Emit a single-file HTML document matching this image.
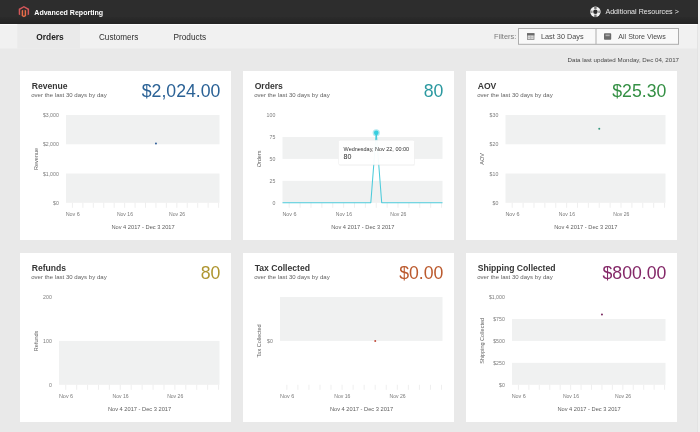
<!DOCTYPE html>
<html><head><meta charset="utf-8">
<style>
html,body{margin:0;padding:0;}
body{width:700px;height:432px;overflow:hidden;background:#e9e9e9;position:relative;font-family:"Liberation Sans", sans-serif;}
.abs{position:absolute;}
svg{display:block;will-change:transform;font-family:"Liberation Sans", sans-serif;}
.header{position:absolute;left:0;top:0;width:700px;height:24px;background:#2d2d2d;}
.tabs{position:absolute;left:0;top:24px;width:700px;height:24px;background:#f4f4f4;}
.tab-active{position:absolute;left:17px;top:24px;width:63px;height:24px;background:#e9e9e9;}
.card{position:absolute;width:211px;background:#fff;}
</style></head><body>
<div class="header"></div><div class="abs" style="left:0;top:17px;width:700px;height:7px;background:linear-gradient(#2b2b2b,#232323)"></div>
<svg class="abs" style="left:0;top:24px" width="700" height="26" viewBox="0 24 700 26"><rect x="0" y="24" width="700" height="24.5" fill="#f1f1f1"/><rect x="0" y="24" width="700" height="1.2" fill="#fbfbfb"/><rect x="17.3" y="24" width="62.7" height="24.5" fill="#eaeaea"/></svg>

<svg class="abs" style="left:0;top:0" width="700" height="48" viewBox="0 0 700 48">
<g transform="translate(17.9 6.0) scale(0.5 0.47)"><path fill="#e86e48" d="M12 24l-4.455-2.572v-12l2.97-1.715v12.001L12 20.578l1.485-.863V7.713l2.97 1.715v12L12 24z"/><path fill="#d4575a" d="M22.391 6v12l-2.969 1.714V7.713L12 3.43 4.574 7.713v12.001L1.609 18V6L12 0l10.391 6z"/></g>
<text x="34.30" y="14.90" font-size="7.6" fill="#fff" font-weight="bold" text-anchor="start" textLength="68.8" lengthAdjust="spacingAndGlyphs">Advanced Reporting</text>
<g transform="translate(595.4 11.8)">
 <circle r="5.2" fill="#f2f2f2"/>
 <circle r="2.2" fill="#2d2d2d"/>
 <rect x="-1.2" y="-5.4" width="2.4" height="2.6" fill="#777"/>
 <rect x="-1.2" y="2.8" width="2.4" height="2.6" fill="#777"/>
 <rect x="-5.4" y="-1.2" width="2.6" height="2.4" fill="#9a9a9a"/>
 <rect x="2.8" y="-1.2" width="2.6" height="2.4" fill="#9a9a9a"/>
</g>
<text x="605.40" y="14.10" font-size="7.3" fill="#e6e6e6" font-weight="normal" text-anchor="start" textLength="73.4" lengthAdjust="spacingAndGlyphs">Additional Resources &gt;</text>
<text x="36.30" y="39.70" font-size="8.38" fill="#222" font-weight="bold" text-anchor="start" >Orders</text>
<text x="99.00" y="39.70" font-size="8.13" fill="#2e2e2e" font-weight="normal" text-anchor="start" >Customers</text>
<text x="173.50" y="39.70" font-size="8.25" fill="#2e2e2e" font-weight="normal" text-anchor="start" >Products</text>
<text x="494.00" y="39.00" font-size="7.45" fill="#7a7a7a" font-weight="normal" text-anchor="start" >Filters:</text>
<rect x="518.5" y="28.5" width="160" height="15.8" fill="#f9f9f9" stroke="#adadad" stroke-width="1"/>
<line x1="596" y1="28.5" x2="596" y2="44.3" stroke="#adadad" stroke-width="1"/>
<g>
 <rect x="527.4" y="33.6" width="6.6" height="5.8" fill="#d8d8d8" stroke="#8a8a8a" stroke-width="0.8"/>
 <rect x="527" y="33.2" width="7.4" height="2.2" fill="#6a6a6a"/>
 <line x1="530.7" y1="35.4" x2="530.7" y2="39.6" stroke="#a0a0a0" stroke-width="0.6"/>
 <line x1="527.4" y1="37.5" x2="534" y2="37.5" stroke="#b0b0b0" stroke-width="0.5"/>
</g>
<text x="541.00" y="39.00" font-size="7.31" fill="#4a4a4a" font-weight="normal" text-anchor="start" >Last 30 Days</text>
<g>
 <rect x="604" y="33.2" width="7.2" height="6.6" rx="0.8" fill="#6a6a6a"/>
 <rect x="605.5" y="34.6" width="4.2" height="1.6" fill="#aaa"/>
</g>
<text x="618.30" y="39.00" font-size="7.09" fill="#4a4a4a" font-weight="normal" text-anchor="start" >All Store Views</text>
</svg>
<svg class="abs" style="left:0;top:48px" width="700" height="20" viewBox="0 48 700 20">
<text x="679.00" y="61.60" font-size="6.17" fill="#484848" font-weight="normal" text-anchor="end" >Data last updated Monday, Dec 04, 2017</text>
</svg>
<div class="card" style="left:20px;top:71px;height:169px">
<svg width="211" height="169" viewBox="0 0 211 169">
<text x="11.70" y="17.50" font-size="8.6" fill="#363636" font-weight="bold" text-anchor="start" >Revenue</text>
<text x="11.20" y="26.00" font-size="6.25" fill="#5f5f5f" font-weight="normal" text-anchor="start" textLength="75.5" lengthAdjust="spacingAndGlyphs">over the last 30 days by day</text>
<text x="200.40" y="25.60" font-size="17.7" fill="#2b6296" font-weight="normal" text-anchor="end" >$2,024.00</text>
<rect x="46" y="44.00" width="153.50" height="29.27" fill="#f0f1f1"/>
<rect x="46" y="102.53" width="153.50" height="29.27" fill="#f0f1f1"/>
<text x="0.00" y="0.00" font-size="5.8" fill="#7c7c7c" font-weight="normal" text-anchor="end" transform="translate(38.80 46.10) scale(0.9 1)">$3,000</text>
<text x="0.00" y="0.00" font-size="5.8" fill="#7c7c7c" font-weight="normal" text-anchor="end" transform="translate(38.80 75.37) scale(0.9 1)">$2,000</text>
<text x="0.00" y="0.00" font-size="5.8" fill="#7c7c7c" font-weight="normal" text-anchor="end" transform="translate(38.80 104.63) scale(0.9 1)">$1,000</text>
<text x="0.00" y="0.00" font-size="5.8" fill="#7c7c7c" font-weight="normal" text-anchor="end" transform="translate(38.80 133.90) scale(0.9 1)">$0</text>
<line x1="52.45" y1="131.8" x2="52.45" y2="136.8" stroke="#e8e8e8" stroke-width="0.7"/>
<line x1="62.89" y1="131.8" x2="62.89" y2="136.8" stroke="#e8e8e8" stroke-width="0.7"/>
<line x1="73.32" y1="131.8" x2="73.32" y2="136.8" stroke="#e8e8e8" stroke-width="0.7"/>
<line x1="83.76" y1="131.8" x2="83.76" y2="136.8" stroke="#e8e8e8" stroke-width="0.7"/>
<line x1="94.20" y1="131.8" x2="94.20" y2="136.8" stroke="#e8e8e8" stroke-width="0.7"/>
<line x1="104.64" y1="131.8" x2="104.64" y2="136.8" stroke="#e8e8e8" stroke-width="0.7"/>
<line x1="115.08" y1="131.8" x2="115.08" y2="136.8" stroke="#e8e8e8" stroke-width="0.7"/>
<line x1="125.51" y1="131.8" x2="125.51" y2="136.8" stroke="#e8e8e8" stroke-width="0.7"/>
<line x1="135.95" y1="131.8" x2="135.95" y2="136.8" stroke="#e8e8e8" stroke-width="0.7"/>
<line x1="146.39" y1="131.8" x2="146.39" y2="136.8" stroke="#e8e8e8" stroke-width="0.7"/>
<line x1="156.83" y1="131.8" x2="156.83" y2="136.8" stroke="#e8e8e8" stroke-width="0.7"/>
<line x1="167.26" y1="131.8" x2="167.26" y2="136.8" stroke="#e8e8e8" stroke-width="0.7"/>
<line x1="177.70" y1="131.8" x2="177.70" y2="136.8" stroke="#e8e8e8" stroke-width="0.7"/>
<line x1="188.14" y1="131.8" x2="188.14" y2="136.8" stroke="#e8e8e8" stroke-width="0.7"/>
<line x1="198.58" y1="131.8" x2="198.58" y2="136.8" stroke="#e8e8e8" stroke-width="0.7"/>
<text x="52.75" y="144.90" font-size="5.9" fill="#7a7a7a" font-weight="normal" text-anchor="middle" textLength="14.2" lengthAdjust="spacingAndGlyphs">Nov 6</text>
<text x="104.94" y="144.90" font-size="5.9" fill="#7a7a7a" font-weight="normal" text-anchor="middle" textLength="16.1" lengthAdjust="spacingAndGlyphs">Nov 16</text>
<text x="157.13" y="144.90" font-size="5.9" fill="#7a7a7a" font-weight="normal" text-anchor="middle" textLength="16.1" lengthAdjust="spacingAndGlyphs">Nov 26</text>
<text x="123.05" y="157.60" font-size="6.0" fill="#606060" font-weight="normal" text-anchor="middle" textLength="63.3" lengthAdjust="spacingAndGlyphs">Nov 4 2017 - Dec 3 2017</text>
<text x="0.00" y="0.00" font-size="5.5" fill="#666" font-weight="normal" text-anchor="middle" transform="translate(17.6 87.90) rotate(-90)">Revenue</text>
<circle cx="135.95" cy="72.56" r="1.0" fill="#2f5f9a"/>
</svg></div>
<div class="card" style="left:243px;top:71px;height:169px">
<svg width="211" height="169" viewBox="0 0 211 169">
<text x="11.70" y="17.50" font-size="8.6" fill="#363636" font-weight="bold" text-anchor="start" >Orders</text>
<text x="11.20" y="26.00" font-size="6.25" fill="#5f5f5f" font-weight="normal" text-anchor="start" textLength="75.5" lengthAdjust="spacingAndGlyphs">over the last 30 days by day</text>
<text x="200.40" y="25.60" font-size="17.7" fill="#2b99a0" font-weight="normal" text-anchor="end" >80</text>
<rect x="39.5" y="65.95" width="160.00" height="21.95" fill="#f0f1f1"/>
<rect x="39.5" y="109.85" width="160.00" height="21.95" fill="#f0f1f1"/>
<text x="0.00" y="0.00" font-size="5.8" fill="#7c7c7c" font-weight="normal" text-anchor="end" transform="translate(32.30 46.10) scale(0.9 1)">100</text>
<text x="0.00" y="0.00" font-size="5.8" fill="#7c7c7c" font-weight="normal" text-anchor="end" transform="translate(32.30 68.05) scale(0.9 1)">75</text>
<text x="0.00" y="0.00" font-size="5.8" fill="#7c7c7c" font-weight="normal" text-anchor="end" transform="translate(32.30 90.00) scale(0.9 1)">50</text>
<text x="0.00" y="0.00" font-size="5.8" fill="#7c7c7c" font-weight="normal" text-anchor="end" transform="translate(32.30 111.95) scale(0.9 1)">25</text>
<text x="0.00" y="0.00" font-size="5.8" fill="#7c7c7c" font-weight="normal" text-anchor="end" transform="translate(32.30 133.90) scale(0.9 1)">0</text>
<line x1="46.22" y1="131.8" x2="46.22" y2="136.8" stroke="#e8e8e8" stroke-width="0.7"/>
<line x1="57.10" y1="131.8" x2="57.10" y2="136.8" stroke="#e8e8e8" stroke-width="0.7"/>
<line x1="67.98" y1="131.8" x2="67.98" y2="136.8" stroke="#e8e8e8" stroke-width="0.7"/>
<line x1="78.86" y1="131.8" x2="78.86" y2="136.8" stroke="#e8e8e8" stroke-width="0.7"/>
<line x1="89.74" y1="131.8" x2="89.74" y2="136.8" stroke="#e8e8e8" stroke-width="0.7"/>
<line x1="100.62" y1="131.8" x2="100.62" y2="136.8" stroke="#e8e8e8" stroke-width="0.7"/>
<line x1="111.50" y1="131.8" x2="111.50" y2="136.8" stroke="#e8e8e8" stroke-width="0.7"/>
<line x1="122.38" y1="131.8" x2="122.38" y2="136.8" stroke="#e8e8e8" stroke-width="0.7"/>
<line x1="133.26" y1="131.8" x2="133.26" y2="136.8" stroke="#e8e8e8" stroke-width="0.7"/>
<line x1="144.14" y1="131.8" x2="144.14" y2="136.8" stroke="#e8e8e8" stroke-width="0.7"/>
<line x1="155.02" y1="131.8" x2="155.02" y2="136.8" stroke="#e8e8e8" stroke-width="0.7"/>
<line x1="165.90" y1="131.8" x2="165.90" y2="136.8" stroke="#e8e8e8" stroke-width="0.7"/>
<line x1="176.78" y1="131.8" x2="176.78" y2="136.8" stroke="#e8e8e8" stroke-width="0.7"/>
<line x1="187.66" y1="131.8" x2="187.66" y2="136.8" stroke="#e8e8e8" stroke-width="0.7"/>
<line x1="198.54" y1="131.8" x2="198.54" y2="136.8" stroke="#e8e8e8" stroke-width="0.7"/>
<text x="46.52" y="144.90" font-size="5.9" fill="#7a7a7a" font-weight="normal" text-anchor="middle" textLength="14.2" lengthAdjust="spacingAndGlyphs">Nov 6</text>
<text x="100.92" y="144.90" font-size="5.9" fill="#7a7a7a" font-weight="normal" text-anchor="middle" textLength="16.1" lengthAdjust="spacingAndGlyphs">Nov 16</text>
<text x="155.32" y="144.90" font-size="5.9" fill="#7a7a7a" font-weight="normal" text-anchor="middle" textLength="16.1" lengthAdjust="spacingAndGlyphs">Nov 26</text>
<text x="119.80" y="157.60" font-size="6.0" fill="#606060" font-weight="normal" text-anchor="middle" textLength="63.3" lengthAdjust="spacingAndGlyphs">Nov 4 2017 - Dec 3 2017</text>
<text x="0.00" y="0.00" font-size="5.5" fill="#666" font-weight="normal" text-anchor="middle" transform="translate(17.6 87.90) rotate(-90)">Orders</text>
<polyline points="39.5,131.8 127.82,131.8 133.26,61.56 138.70,131.8 199.5,131.8" fill="none" stroke="#4ccbdb" stroke-width="1.05" stroke-linejoin="round"/>
<circle cx="133.26" cy="61.86" r="3.6" fill="#3cc6d6" opacity="0.4"/>
<circle cx="133.26" cy="61.86" r="2.3" fill="#36cfe0"/>
<rect x="96.0" y="70.50000000000001" width="76" height="24.5" rx="1.5" fill="rgba(0,0,0,0.03)"/>
<rect x="95.5" y="69.30000000000001" width="76" height="24.5" rx="1.5" fill="rgba(255,255,255,0.95)" stroke="#efefef" stroke-width="0.6"/>
<text x="100.60" y="79.60" font-size="6.0" fill="#333" font-weight="normal" text-anchor="start" textLength="65.5" lengthAdjust="spacingAndGlyphs">Wednesday, Nov 22, 00:00</text>
<text x="100.50" y="87.70" font-size="6.4" fill="#2a2a2a" font-weight="normal" text-anchor="start" textLength="7.9" lengthAdjust="spacingAndGlyphs">80</text>
</svg></div>
<div class="card" style="left:466px;top:71px;height:169px">
<svg width="211" height="169" viewBox="0 0 211 169">
<text x="11.70" y="17.50" font-size="8.6" fill="#363636" font-weight="bold" text-anchor="start" >AOV</text>
<text x="11.20" y="26.00" font-size="6.25" fill="#5f5f5f" font-weight="normal" text-anchor="start" textLength="75.5" lengthAdjust="spacingAndGlyphs">over the last 30 days by day</text>
<text x="200.40" y="25.60" font-size="17.7" fill="#359045" font-weight="normal" text-anchor="end" >$25.30</text>
<rect x="39.5" y="44.00" width="160.00" height="29.27" fill="#f0f1f1"/>
<rect x="39.5" y="102.53" width="160.00" height="29.27" fill="#f0f1f1"/>
<text x="0.00" y="0.00" font-size="5.8" fill="#7c7c7c" font-weight="normal" text-anchor="end" transform="translate(32.30 46.10) scale(0.9 1)">$30</text>
<text x="0.00" y="0.00" font-size="5.8" fill="#7c7c7c" font-weight="normal" text-anchor="end" transform="translate(32.30 75.37) scale(0.9 1)">$20</text>
<text x="0.00" y="0.00" font-size="5.8" fill="#7c7c7c" font-weight="normal" text-anchor="end" transform="translate(32.30 104.63) scale(0.9 1)">$10</text>
<text x="0.00" y="0.00" font-size="5.8" fill="#7c7c7c" font-weight="normal" text-anchor="end" transform="translate(32.30 133.90) scale(0.9 1)">$0</text>
<line x1="46.22" y1="131.8" x2="46.22" y2="136.8" stroke="#e8e8e8" stroke-width="0.7"/>
<line x1="57.10" y1="131.8" x2="57.10" y2="136.8" stroke="#e8e8e8" stroke-width="0.7"/>
<line x1="67.98" y1="131.8" x2="67.98" y2="136.8" stroke="#e8e8e8" stroke-width="0.7"/>
<line x1="78.86" y1="131.8" x2="78.86" y2="136.8" stroke="#e8e8e8" stroke-width="0.7"/>
<line x1="89.74" y1="131.8" x2="89.74" y2="136.8" stroke="#e8e8e8" stroke-width="0.7"/>
<line x1="100.62" y1="131.8" x2="100.62" y2="136.8" stroke="#e8e8e8" stroke-width="0.7"/>
<line x1="111.50" y1="131.8" x2="111.50" y2="136.8" stroke="#e8e8e8" stroke-width="0.7"/>
<line x1="122.38" y1="131.8" x2="122.38" y2="136.8" stroke="#e8e8e8" stroke-width="0.7"/>
<line x1="133.26" y1="131.8" x2="133.26" y2="136.8" stroke="#e8e8e8" stroke-width="0.7"/>
<line x1="144.14" y1="131.8" x2="144.14" y2="136.8" stroke="#e8e8e8" stroke-width="0.7"/>
<line x1="155.02" y1="131.8" x2="155.02" y2="136.8" stroke="#e8e8e8" stroke-width="0.7"/>
<line x1="165.90" y1="131.8" x2="165.90" y2="136.8" stroke="#e8e8e8" stroke-width="0.7"/>
<line x1="176.78" y1="131.8" x2="176.78" y2="136.8" stroke="#e8e8e8" stroke-width="0.7"/>
<line x1="187.66" y1="131.8" x2="187.66" y2="136.8" stroke="#e8e8e8" stroke-width="0.7"/>
<line x1="198.54" y1="131.8" x2="198.54" y2="136.8" stroke="#e8e8e8" stroke-width="0.7"/>
<text x="46.52" y="144.90" font-size="5.9" fill="#7a7a7a" font-weight="normal" text-anchor="middle" textLength="14.2" lengthAdjust="spacingAndGlyphs">Nov 6</text>
<text x="100.92" y="144.90" font-size="5.9" fill="#7a7a7a" font-weight="normal" text-anchor="middle" textLength="16.1" lengthAdjust="spacingAndGlyphs">Nov 16</text>
<text x="155.32" y="144.90" font-size="5.9" fill="#7a7a7a" font-weight="normal" text-anchor="middle" textLength="16.1" lengthAdjust="spacingAndGlyphs">Nov 26</text>
<text x="119.80" y="157.60" font-size="6.0" fill="#606060" font-weight="normal" text-anchor="middle" textLength="63.3" lengthAdjust="spacingAndGlyphs">Nov 4 2017 - Dec 3 2017</text>
<text x="0.00" y="0.00" font-size="5.5" fill="#666" font-weight="normal" text-anchor="middle" transform="translate(17.6 87.90) rotate(-90)">AOV</text>
<circle cx="133.26" cy="57.76" r="1.0" fill="#35987e"/>
</svg></div>
<div class="card" style="left:20px;top:253px;height:169px">
<svg width="211" height="169" viewBox="0 0 211 169">
<text x="11.70" y="17.50" font-size="8.6" fill="#363636" font-weight="bold" text-anchor="start" >Refunds</text>
<text x="11.20" y="26.00" font-size="6.25" fill="#5f5f5f" font-weight="normal" text-anchor="start" textLength="75.5" lengthAdjust="spacingAndGlyphs">over the last 30 days by day</text>
<text x="200.40" y="25.60" font-size="17.7" fill="#ae952f" font-weight="normal" text-anchor="end" >80</text>
<rect x="39" y="87.90" width="160.50" height="43.90" fill="#f0f1f1"/>
<text x="0.00" y="0.00" font-size="5.8" fill="#7c7c7c" font-weight="normal" text-anchor="end" transform="translate(31.80 46.10) scale(0.9 1)">200</text>
<text x="0.00" y="0.00" font-size="5.8" fill="#7c7c7c" font-weight="normal" text-anchor="end" transform="translate(31.80 90.00) scale(0.9 1)">100</text>
<text x="0.00" y="0.00" font-size="5.8" fill="#7c7c7c" font-weight="normal" text-anchor="end" transform="translate(31.80 133.90) scale(0.9 1)">0</text>
<line x1="45.74" y1="131.8" x2="45.74" y2="136.8" stroke="#e8e8e8" stroke-width="0.7"/>
<line x1="56.66" y1="131.8" x2="56.66" y2="136.8" stroke="#e8e8e8" stroke-width="0.7"/>
<line x1="67.57" y1="131.8" x2="67.57" y2="136.8" stroke="#e8e8e8" stroke-width="0.7"/>
<line x1="78.48" y1="131.8" x2="78.48" y2="136.8" stroke="#e8e8e8" stroke-width="0.7"/>
<line x1="89.40" y1="131.8" x2="89.40" y2="136.8" stroke="#e8e8e8" stroke-width="0.7"/>
<line x1="100.31" y1="131.8" x2="100.31" y2="136.8" stroke="#e8e8e8" stroke-width="0.7"/>
<line x1="111.23" y1="131.8" x2="111.23" y2="136.8" stroke="#e8e8e8" stroke-width="0.7"/>
<line x1="122.14" y1="131.8" x2="122.14" y2="136.8" stroke="#e8e8e8" stroke-width="0.7"/>
<line x1="133.05" y1="131.8" x2="133.05" y2="136.8" stroke="#e8e8e8" stroke-width="0.7"/>
<line x1="143.97" y1="131.8" x2="143.97" y2="136.8" stroke="#e8e8e8" stroke-width="0.7"/>
<line x1="154.88" y1="131.8" x2="154.88" y2="136.8" stroke="#e8e8e8" stroke-width="0.7"/>
<line x1="165.80" y1="131.8" x2="165.80" y2="136.8" stroke="#e8e8e8" stroke-width="0.7"/>
<line x1="176.71" y1="131.8" x2="176.71" y2="136.8" stroke="#e8e8e8" stroke-width="0.7"/>
<line x1="187.62" y1="131.8" x2="187.62" y2="136.8" stroke="#e8e8e8" stroke-width="0.7"/>
<line x1="198.54" y1="131.8" x2="198.54" y2="136.8" stroke="#e8e8e8" stroke-width="0.7"/>
<text x="46.04" y="144.90" font-size="5.9" fill="#7a7a7a" font-weight="normal" text-anchor="middle" textLength="14.2" lengthAdjust="spacingAndGlyphs">Nov 6</text>
<text x="100.61" y="144.90" font-size="5.9" fill="#7a7a7a" font-weight="normal" text-anchor="middle" textLength="16.1" lengthAdjust="spacingAndGlyphs">Nov 16</text>
<text x="155.18" y="144.90" font-size="5.9" fill="#7a7a7a" font-weight="normal" text-anchor="middle" textLength="16.1" lengthAdjust="spacingAndGlyphs">Nov 26</text>
<text x="119.55" y="157.60" font-size="6.0" fill="#606060" font-weight="normal" text-anchor="middle" textLength="63.3" lengthAdjust="spacingAndGlyphs">Nov 4 2017 - Dec 3 2017</text>
<text x="0.00" y="0.00" font-size="5.5" fill="#666" font-weight="normal" text-anchor="middle" transform="translate(17.6 87.90) rotate(-90)">Refunds</text>
</svg></div>
<div class="card" style="left:243px;top:253px;height:169px">
<svg width="211" height="169" viewBox="0 0 211 169">
<text x="11.70" y="17.50" font-size="8.6" fill="#363636" font-weight="bold" text-anchor="start" >Tax Collected</text>
<text x="11.20" y="26.00" font-size="6.25" fill="#5f5f5f" font-weight="normal" text-anchor="start" textLength="75.5" lengthAdjust="spacingAndGlyphs">over the last 30 days by day</text>
<text x="200.40" y="25.60" font-size="17.7" fill="#bb5a2e" font-weight="normal" text-anchor="end" >$0.00</text>
<rect x="37" y="44.00" width="162.50" height="43.90" fill="#f0f1f1"/>
<text x="0.00" y="0.00" font-size="5.8" fill="#7c7c7c" font-weight="normal" text-anchor="end" transform="translate(29.80 90.00) scale(0.9 1)">$0</text>
<line x1="43.83" y1="131.8" x2="43.83" y2="136.8" stroke="#e8e8e8" stroke-width="0.7"/>
<line x1="54.88" y1="131.8" x2="54.88" y2="136.8" stroke="#e8e8e8" stroke-width="0.7"/>
<line x1="65.93" y1="131.8" x2="65.93" y2="136.8" stroke="#e8e8e8" stroke-width="0.7"/>
<line x1="76.97" y1="131.8" x2="76.97" y2="136.8" stroke="#e8e8e8" stroke-width="0.7"/>
<line x1="88.03" y1="131.8" x2="88.03" y2="136.8" stroke="#e8e8e8" stroke-width="0.7"/>
<line x1="99.08" y1="131.8" x2="99.08" y2="136.8" stroke="#e8e8e8" stroke-width="0.7"/>
<line x1="110.12" y1="131.8" x2="110.12" y2="136.8" stroke="#e8e8e8" stroke-width="0.7"/>
<line x1="121.17" y1="131.8" x2="121.17" y2="136.8" stroke="#e8e8e8" stroke-width="0.7"/>
<line x1="132.23" y1="131.8" x2="132.23" y2="136.8" stroke="#e8e8e8" stroke-width="0.7"/>
<line x1="143.28" y1="131.8" x2="143.28" y2="136.8" stroke="#e8e8e8" stroke-width="0.7"/>
<line x1="154.33" y1="131.8" x2="154.33" y2="136.8" stroke="#e8e8e8" stroke-width="0.7"/>
<line x1="165.38" y1="131.8" x2="165.38" y2="136.8" stroke="#e8e8e8" stroke-width="0.7"/>
<line x1="176.43" y1="131.8" x2="176.43" y2="136.8" stroke="#e8e8e8" stroke-width="0.7"/>
<line x1="187.48" y1="131.8" x2="187.48" y2="136.8" stroke="#e8e8e8" stroke-width="0.7"/>
<line x1="198.53" y1="131.8" x2="198.53" y2="136.8" stroke="#e8e8e8" stroke-width="0.7"/>
<text x="44.12" y="144.90" font-size="5.9" fill="#7a7a7a" font-weight="normal" text-anchor="middle" textLength="14.2" lengthAdjust="spacingAndGlyphs">Nov 6</text>
<text x="99.38" y="144.90" font-size="5.9" fill="#7a7a7a" font-weight="normal" text-anchor="middle" textLength="16.1" lengthAdjust="spacingAndGlyphs">Nov 16</text>
<text x="154.63" y="144.90" font-size="5.9" fill="#7a7a7a" font-weight="normal" text-anchor="middle" textLength="16.1" lengthAdjust="spacingAndGlyphs">Nov 26</text>
<text x="118.55" y="157.60" font-size="6.0" fill="#606060" font-weight="normal" text-anchor="middle" textLength="63.3" lengthAdjust="spacingAndGlyphs">Nov 4 2017 - Dec 3 2017</text>
<text x="0.00" y="0.00" font-size="5.5" fill="#666" font-weight="normal" text-anchor="middle" transform="translate(17.6 87.90) rotate(-90)">Tax Collected</text>
<circle cx="132.22" cy="87.90" r="1.0" fill="#c04a3a"/>
</svg></div>
<div class="card" style="left:466px;top:253px;height:169px">
<svg width="211" height="169" viewBox="0 0 211 169">
<text x="11.70" y="17.50" font-size="8.6" fill="#363636" font-weight="bold" text-anchor="start" >Shipping Collected</text>
<text x="11.20" y="26.00" font-size="6.25" fill="#5f5f5f" font-weight="normal" text-anchor="start" textLength="75.5" lengthAdjust="spacingAndGlyphs">over the last 30 days by day</text>
<text x="200.40" y="25.60" font-size="17.7" fill="#842868" font-weight="normal" text-anchor="end" >$800.00</text>
<rect x="46" y="65.95" width="153.50" height="21.95" fill="#f0f1f1"/>
<rect x="46" y="109.85" width="153.50" height="21.95" fill="#f0f1f1"/>
<text x="0.00" y="0.00" font-size="5.8" fill="#7c7c7c" font-weight="normal" text-anchor="end" transform="translate(38.80 46.10) scale(0.9 1)">$1,000</text>
<text x="0.00" y="0.00" font-size="5.8" fill="#7c7c7c" font-weight="normal" text-anchor="end" transform="translate(38.80 68.05) scale(0.9 1)">$750</text>
<text x="0.00" y="0.00" font-size="5.8" fill="#7c7c7c" font-weight="normal" text-anchor="end" transform="translate(38.80 90.00) scale(0.9 1)">$500</text>
<text x="0.00" y="0.00" font-size="5.8" fill="#7c7c7c" font-weight="normal" text-anchor="end" transform="translate(38.80 111.95) scale(0.9 1)">$250</text>
<text x="0.00" y="0.00" font-size="5.8" fill="#7c7c7c" font-weight="normal" text-anchor="end" transform="translate(38.80 133.90) scale(0.9 1)">$0</text>
<line x1="52.45" y1="131.8" x2="52.45" y2="136.8" stroke="#e8e8e8" stroke-width="0.7"/>
<line x1="62.89" y1="131.8" x2="62.89" y2="136.8" stroke="#e8e8e8" stroke-width="0.7"/>
<line x1="73.32" y1="131.8" x2="73.32" y2="136.8" stroke="#e8e8e8" stroke-width="0.7"/>
<line x1="83.76" y1="131.8" x2="83.76" y2="136.8" stroke="#e8e8e8" stroke-width="0.7"/>
<line x1="94.20" y1="131.8" x2="94.20" y2="136.8" stroke="#e8e8e8" stroke-width="0.7"/>
<line x1="104.64" y1="131.8" x2="104.64" y2="136.8" stroke="#e8e8e8" stroke-width="0.7"/>
<line x1="115.08" y1="131.8" x2="115.08" y2="136.8" stroke="#e8e8e8" stroke-width="0.7"/>
<line x1="125.51" y1="131.8" x2="125.51" y2="136.8" stroke="#e8e8e8" stroke-width="0.7"/>
<line x1="135.95" y1="131.8" x2="135.95" y2="136.8" stroke="#e8e8e8" stroke-width="0.7"/>
<line x1="146.39" y1="131.8" x2="146.39" y2="136.8" stroke="#e8e8e8" stroke-width="0.7"/>
<line x1="156.83" y1="131.8" x2="156.83" y2="136.8" stroke="#e8e8e8" stroke-width="0.7"/>
<line x1="167.26" y1="131.8" x2="167.26" y2="136.8" stroke="#e8e8e8" stroke-width="0.7"/>
<line x1="177.70" y1="131.8" x2="177.70" y2="136.8" stroke="#e8e8e8" stroke-width="0.7"/>
<line x1="188.14" y1="131.8" x2="188.14" y2="136.8" stroke="#e8e8e8" stroke-width="0.7"/>
<line x1="198.58" y1="131.8" x2="198.58" y2="136.8" stroke="#e8e8e8" stroke-width="0.7"/>
<text x="52.75" y="144.90" font-size="5.9" fill="#7a7a7a" font-weight="normal" text-anchor="middle" textLength="14.2" lengthAdjust="spacingAndGlyphs">Nov 6</text>
<text x="104.94" y="144.90" font-size="5.9" fill="#7a7a7a" font-weight="normal" text-anchor="middle" textLength="16.1" lengthAdjust="spacingAndGlyphs">Nov 16</text>
<text x="157.13" y="144.90" font-size="5.9" fill="#7a7a7a" font-weight="normal" text-anchor="middle" textLength="16.1" lengthAdjust="spacingAndGlyphs">Nov 26</text>
<text x="123.05" y="157.60" font-size="6.0" fill="#606060" font-weight="normal" text-anchor="middle" textLength="63.3" lengthAdjust="spacingAndGlyphs">Nov 4 2017 - Dec 3 2017</text>
<text x="0.00" y="0.00" font-size="5.5" fill="#666" font-weight="normal" text-anchor="middle" transform="translate(17.6 87.90) rotate(-90)">Shipping Collected</text>
<circle cx="135.95" cy="61.56" r="1.0" fill="#7a2a60"/>
</svg></div>
<div class="abs" style="left:697px;top:24px;width:1px;height:408px;background:#e3e3e3"></div><div class="abs" style="left:698px;top:0;width:2px;height:432px;background:#efefef"></div>
</body></html>
